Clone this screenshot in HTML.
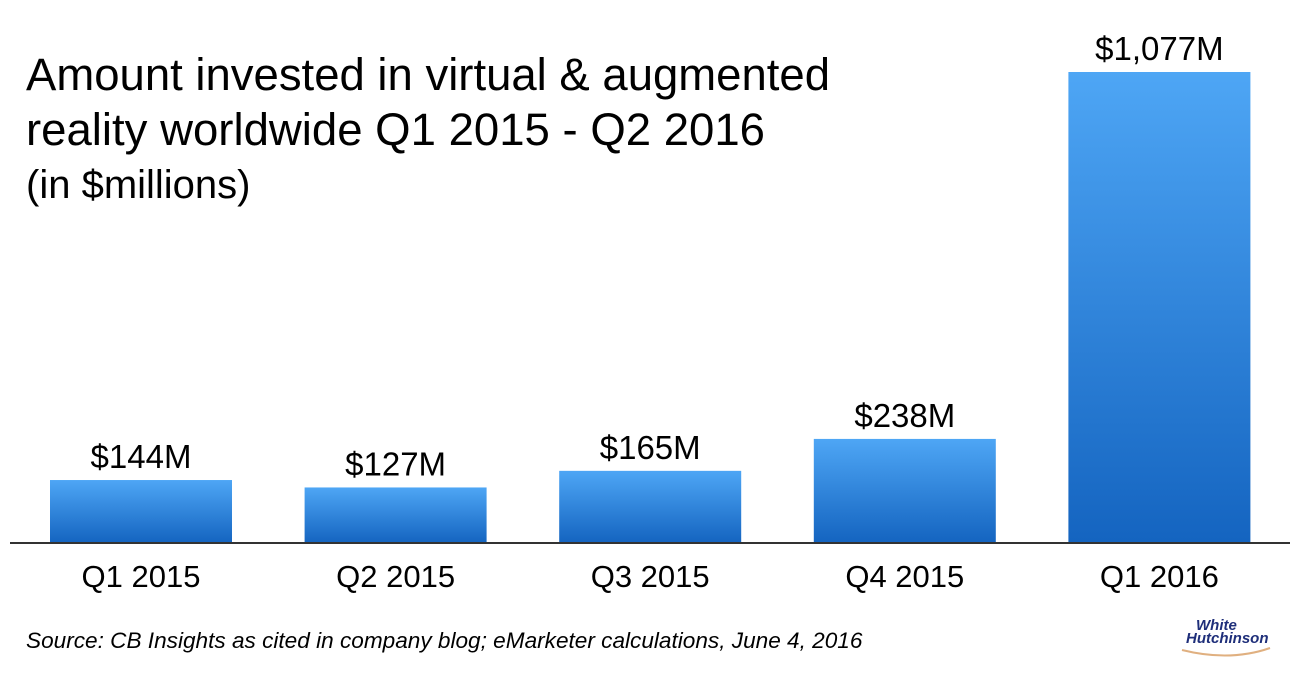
<!DOCTYPE html>
<html><head><meta charset="utf-8"><style>
body{margin:0;width:1304px;height:679px;background:#fff;overflow:hidden;font-family:"Liberation Sans",sans-serif;}
</style></head><body>
<svg width="1304" height="679" xmlns="http://www.w3.org/2000/svg">
<defs><linearGradient id="g" x1="0" y1="0" x2="0" y2="1"><stop offset="0" stop-color="#4ea6f5"/><stop offset="1" stop-color="#1464c0"/></linearGradient></defs>
<g fill="#000">
<text x="26" y="90" font-size="45" textLength="804" lengthAdjust="spacingAndGlyphs">Amount invested in virtual &amp; augmented</text>
<text x="26" y="145" font-size="45" textLength="739" lengthAdjust="spacingAndGlyphs">reality worldwide Q1 2015 - Q2 2016</text>
<text x="26" y="198" font-size="40">(in $millions)</text>
</g>
<g id="bars"></g>
<line x1="10" y1="543" x2="1290" y2="543" stroke="#333" stroke-width="2"/>
<text x="26" y="648" font-size="22.6" font-style="italic">Source: CB Insights as cited in company blog; eMarketer calculations, June 4, 2016</text>
<g font-style="italic" font-weight="bold" fill="#1f2f7a">
<text x="1196" y="630" font-size="15">White</text>
<text x="1186" y="643" font-size="15">Hutchinson</text>
<path d="M1182 650 Q1230 662 1270 648" stroke="#e0b080" fill="none" stroke-width="2"/>
</g>
</svg>
<script>
const categories=["Q1 2015","Q2 2015","Q3 2015","Q4 2015","Q1 2016"];
const values=[144,127,165,238,1077];
const labels=["$144M","$127M","$165M","$238M","$1,077M"];
const ns="http://www.w3.org/2000/svg";
const base=543,scale=471/1077,x0=50,step=254.6,bw=182;
const y=v=>base-v*scale, x=i=>x0+i*step;
const g=document.getElementById('bars');
categories.forEach((c,i)=>{
 const r=document.createElementNS(ns,'rect');
 r.setAttribute('x',x(i));r.setAttribute('y',y(values[i]));r.setAttribute('width',bw);r.setAttribute('height',base-y(values[i]));r.setAttribute('fill','url(#g)');
 
 
 g.appendChild(r);
 const t=document.createElementNS(ns,'text');
 t.setAttribute('x',x(i)+bw/2);t.setAttribute('y',y(values[i])-12);t.setAttribute('text-anchor','middle');t.setAttribute('font-size','33');
 t.textContent=labels[i];
 
 
 g.appendChild(t);
 const l=document.createElementNS(ns,'text');
 l.setAttribute('x',x(i)+bw/2);l.setAttribute('y',587);l.setAttribute('text-anchor','middle');l.setAttribute('font-size','31');
 l.textContent=c;
 
 
 g.appendChild(l);
});
</script>
</body></html>
